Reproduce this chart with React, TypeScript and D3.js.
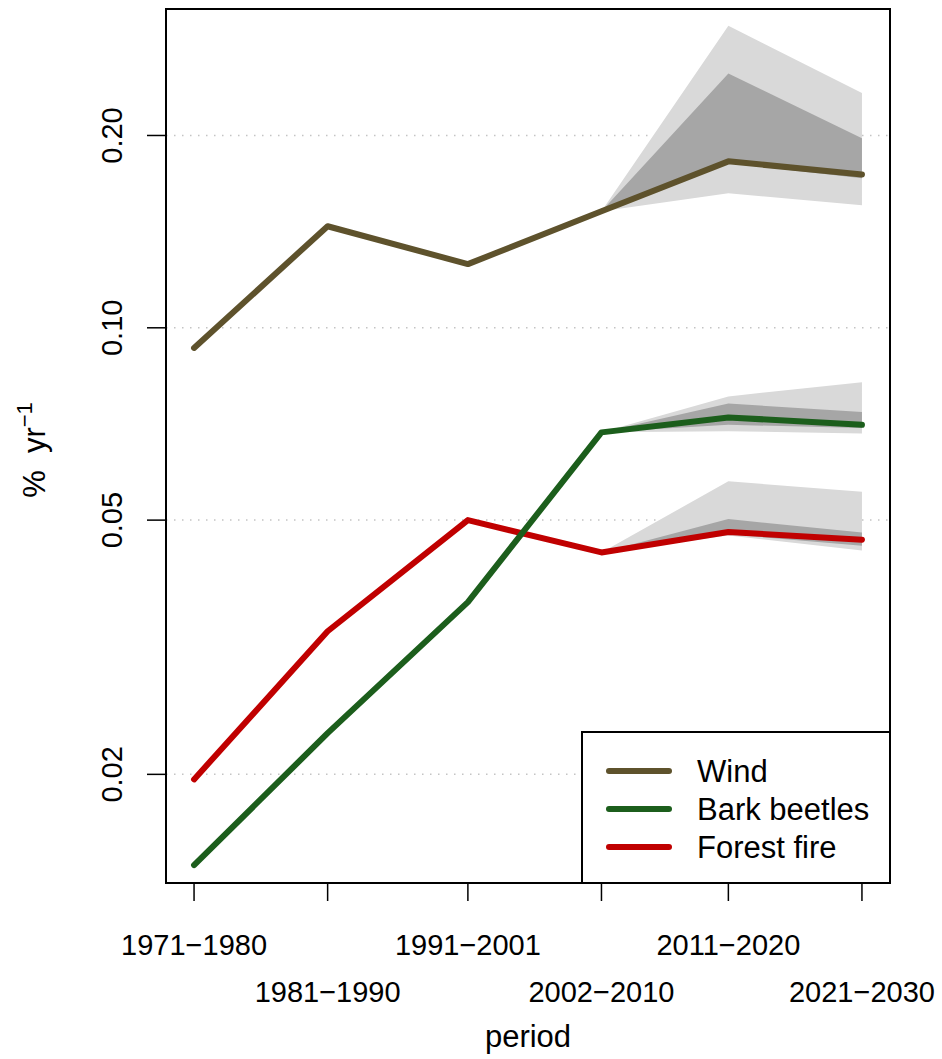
import { useEffect, useRef } from "react";
import * as d3 from "d3";

// periods and their mid years (x positions)
const periods = ["1971\u22121980", "1981\u22121990", "1991\u22122001", "2002\u22122010", "2011\u22122020", "2021\u22122030"];
const midYears = [1975.5, 1985.5, 1996, 2006, 2015.5, 2025.5];

// disturbance rates, % per year
const wind = [0.093, 0.1442, 0.1258, 0.1522, 0.1822, 0.1738];
const bark = [0.01442, 0.0232, 0.0372, 0.0686, 0.0724, 0.0705];
const fire = [0.01964, 0.0335, 0.05, 0.0445, 0.0479, 0.0466];

// scenario ranges for the last three periods
const bandYears = [2006, 2015.5, 2025.5];
const windOuterHi = [0.1522, 0.297, 0.233];
const windOuterLo = [0.1522, 0.1624, 0.1556];
const windInnerHi = [0.1522, 0.25, 0.198];
const windInnerLo = [0.1522, 0.181, 0.1714];
const barkOuterHi = [0.0686, 0.0781, 0.0822];
const barkOuterLo = [0.0686, 0.0689, 0.0683];
const barkInnerHi = [0.0686, 0.0761, 0.0738];
const barkInnerLo = [0.0686, 0.0705, 0.0697];
const fireOuterHi = [0.0445, 0.0575, 0.0554];
const fireOuterLo = [0.0445, 0.0473, 0.0448];
const fireInnerHi = [0.0445, 0.0502, 0.0478];
const fireInnerLo = [0.0445, 0.0475, 0.0456];

const yTicks = [0.02, 0.05, 0.1, 0.2];
const yTickLabels = ["0.02", "0.05", "0.10", "0.20"];

const seriesNames = ["Wind", "Bark beetles", "Forest fire"];
const seriesColors = ["#5E522C", "#1C5E1C", "#C00000"];

const FONT = "'Liberation Sans', Arial, Helvetica, sans-serif";

const App = () => {
    const ref = useRef<SVGSVGElement | null>(null);

    useEffect(() => {
        if (!ref.current) return;
        const svg = d3.select(ref.current);
        svg.selectAll("*").remove();

        const width = 942;
        const height = 1059;
        const left = 166, right = 890, top = 9, bottom = 883;

        svg.attr("width", width).attr("height", height);

        const x = d3.scaleLinear().domain([1973.4, 2027.6]).range([left, right]);
        const y = d3.scaleLog().domain([0.01352, 0.3155]).range([bottom, top]);

        // grid
        svg.append("g")
            .selectAll("line")
            .data(yTicks)
            .enter().append("line")
            .attr("x1", left).attr("x2", right)
            .attr("y1", d => y(d)).attr("y2", d => y(d))
            .attr("stroke", "#c4c4c4")
            .attr("stroke-width", 1.5)
            .attr("stroke-dasharray", "1.5 6.5");

        // bands
        const area = d3.area<number>()
            .x((_, i) => x(bandYears[i]));
        const band = (hi: number[], lo: number[], fill: string) => {
            svg.append("path")
                .attr("d", area.y1((d) => y(d)).y0((_, i) => y(lo[i]))(hi) as string)
                .attr("fill", fill);
        };
        band(windOuterHi, windOuterLo, "#d9d9d9");
        band(windInnerHi, windInnerLo, "#a6a6a6");
        band(barkOuterHi, barkOuterLo, "#d9d9d9");
        band(barkInnerHi, barkInnerLo, "#a6a6a6");
        band(fireOuterHi, fireOuterLo, "#d9d9d9");
        band(fireInnerHi, fireInnerLo, "#a6a6a6");

        // lines
        const line = d3.line<number>()
            .x((_, i) => x(midYears[i]))
            .y(d => y(d));
        const drawOrder = [2, 1, 0];
        const allSeries = [wind, bark, fire];
        drawOrder.forEach(k => {
            svg.append("path")
                .attr("d", line(allSeries[k]) as string)
                .attr("fill", "none")
                .attr("stroke", seriesColors[k])
                .attr("stroke-width", 6)
                .attr("stroke-linejoin", "round")
                .attr("stroke-linecap", "round");
        });

        // x axis
        const xa = svg.append("g");
        xa.selectAll("line")
            .data(midYears)
            .enter().append("line")
            .attr("x1", d => x(d)).attr("x2", d => x(d))
            .attr("y1", bottom).attr("y2", bottom + 18)
            .attr("stroke", "#000").attr("stroke-width", 1.5);
        xa.selectAll("text")
            .data(periods)
            .enter().append("text")
            .attr("x", (_, i) => x(midYears[i]))
            .attr("y", (_, i) => (i % 2 === 0 ? 955 : 1002))
            .attr("text-anchor", "middle")
            .attr("font-family", FONT)
            .attr("font-size", 29)
            .text(d => d);

        // y axis
        const ya = svg.append("g");
        ya.selectAll("line")
            .data(yTicks)
            .enter().append("line")
            .attr("x1", left - 19).attr("x2", left)
            .attr("y1", d => y(d)).attr("y2", d => y(d))
            .attr("stroke", "#000").attr("stroke-width", 1.5);
        ya.selectAll("text")
            .data(yTicks)
            .enter().append("text")
            .attr("transform", d => `translate(122,${y(d)}) rotate(-90)`)
            .attr("text-anchor", "middle")
            .attr("font-family", FONT)
            .attr("font-size", 29)
            .text((_, i) => yTickLabels[i]);

        // box
        svg.append("rect")
            .attr("x", left).attr("y", top)
            .attr("width", right - left).attr("height", bottom - top)
            .attr("fill", "none").attr("stroke", "#000").attr("stroke-width", 2);

        // axis titles
        svg.append("text")
            .attr("x", (left + right) / 2)
            .attr("y", 1047)
            .attr("text-anchor", "middle")
            .attr("font-family", FONT)
            .attr("font-size", 31)
            .text("period");

        const yl = svg.append("text")
            .attr("transform", "translate(45,450) rotate(-90)")
            .attr("text-anchor", "middle")
            .attr("font-family", FONT)
            .attr("font-size", 31)
            .attr("xml:space", "preserve")
            .style("white-space", "pre");
        yl.append("tspan").text("%  yr");
        yl.append("tspan").attr("dy", -13).attr("font-size", 22).text("\u22121");

        // legend
        const lg = svg.append("g");
        lg.append("rect")
            .attr("x", 582).attr("y", 732)
            .attr("width", right - 582).attr("height", bottom - 732)
            .attr("fill", "#fff").attr("stroke", "#000").attr("stroke-width", 2);
        const legendY = [771, 809, 847];
        seriesNames.forEach((name, i) => {
            lg.append("line")
                .attr("x1", 609).attr("x2", 669)
                .attr("y1", legendY[i]).attr("y2", legendY[i])
                .attr("stroke", seriesColors[i])
                .attr("stroke-width", 6)
                .attr("stroke-linecap", "round");
            lg.append("text")
                .attr("x", 697)
                .attr("y", legendY[i] + 11)
                .attr("font-family", FONT)
                .attr("font-size", 31)
                .text(name);
        });
    }, []);

    return (
        <svg ref={ref} style={{ position: "absolute", left: 0, top: 0, background: "#fff" }}></svg>
    );
};

export default App;
